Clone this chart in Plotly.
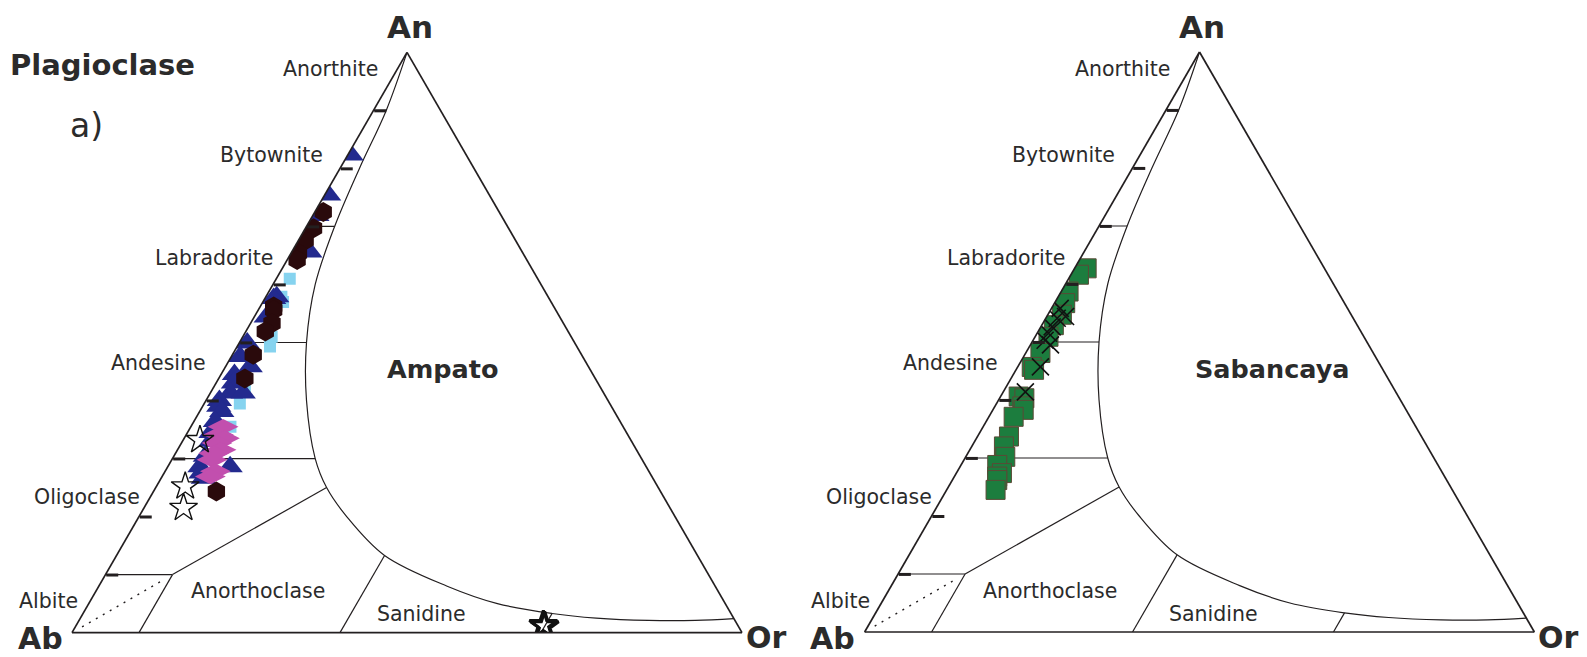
import plotly.graph_objects as go

# page has an 8 px body margin: the figure is sized to the remaining window
OFF = 8
W, H = 1587 - OFF, 657 - OFF
FONT = "DejaVu Sans, Liberation Sans, Arial, sans-serif"
INK = "#231f20"

# ── field boundaries, (An, Or) in mol % ───────────────────────────────────────
SOLVUS_AN = [100, 90, 80, 70, 60, 50, 40, 30, 25, 20, 13.3, 8, 5, 3.3, 2.5, 2.1, 2.1, 2.4]
SOLVUS_OR = [0, 1.9, 2.9, 4.2, 6.3, 10, 15, 21.3, 25.5, 31, 40, 52, 61, 70, 77, 85, 92, 97.6]

PLAG_DIV_AN = [90, 70, 50, 30]          # horizontal plagioclase divisions
PLAG_DIV_OR = [1.9, 4.2, 10, 21.3]      # where they meet the solvus

ALB_TOP_AN, ALB_TOP_OR = [10, 10], [0, 10]
ALB_ANC_AN, ALB_ANC_OR = [0, 10], [10, 10]
ANC_TOP_AN, ANC_TOP_OR = [10, 25], [10, 25.5]
ANC_SAN_AN, ANC_SAN_OR = [0, 13.3], [40, 40]
SAN_END_AN, SAN_END_OR = [0, 3.3], [70, 70]
ALB_DOT_AN, ALB_DOT_OR = [1, 9], [1, 9]

AN_TICKS = [10, 20, 30, 40, 50, 60, 70, 80, 90]

# ── Ampato analyses ───────────────────────────────────────────────────────────
AMP_SQ_AN = [61.0, 57.9, 57.0, 51.0, 49.3, 39.5, 35.5, 42.0]
AMP_SQ_OR = [2.0, 2.3, 3.0, 4.3, 4.9, 5.3, 5.9, 4.8]

AMP_TRI_AN = [82.3, 75.4, 71.9, 65.6, 57.9, 57.6, 54.4, 49.9, 47.6, 45.8, 44.5, 43.0,
              41.3, 41.3, 40.0, 39.0, 38.1, 36.4, 34.5, 33.0, 30.4, 28.6, 28.6, 27.5, 26.6]
AMP_TRI_OR = [0.5, 0.6, 0.6, 2.7, 1.6, 1.3, 1.8, 1.2, 1.3, 3.7, 2.0, 2.6,
              3.0, 4.9, 2.0, 2.4, 3.3, 3.2, 3.5, 4.2, 4.7, 4.8, 9.3, 5.5, 6.3]

AMP_DIA_AN = [35.5, 34.1, 33.5, 32.7, 31.5, 30.9, 29.8, 27.8, 26.9]
AMP_DIA_OR = [4.8, 4.8, 6.0, 5.3, 6.5, 5.7, 6.0, 7.5, 7.2]

AMP_HEX_AN = [72.5, 69.7, 67.6, 65.4, 64.2, 56.2, 55.6, 53.3, 51.9, 47.9, 43.8, 24.3]
AMP_HEX_OR = [1.25, 1.2, 1.0, 1.1, 1.5, 2.0, 2.3, 3.2, 2.9, 3.1, 3.9, 9.4]

AMP_STAR_AN = [33.2, 25.2, 21.5, 1.1, 1.3]
AMP_STAR_OR = [2.5, 4.3, 5.9, 70.0, 69.7]

# ── Sabancaya analyses ────────────────────────────────────────────────────────
SAB_SQ_AN = [62.7, 61.6, 58.7, 56.7, 54.7, 52.9, 50.9, 48.1, 45.7, 45.2, 40.6, 40.3,
             38.9, 38.3, 37.1, 33.7, 32.0, 30.2, 28.8, 27.4, 26.8, 26.2, 24.5]
SAB_SQ_OR = [1.8, 1.2, 1.1, 1.6, 2.1, 1.8, 2.0, 2.2, 2.1, 2.7, 2.7, 3.7,
             4.1, 4.6, 3.7, 4.7, 4.8, 5.9, 5.4, 6.8, 6.4, 6.7, 7.3]

SAB_X_AN = [55.8, 54.4, 54.1, 52.6, 51.5, 50.3, 49.5, 45.7, 41.4]
SAB_X_OR = [1.3, 2.8, 1.7, 1.7, 1.7, 1.8, 3.0, 3.4, 3.3]


def ab(an, orr):
    return [100 - a - o for a, o in zip(an, orr)]


def tern_line(sub, an, orr, width=1.2, dash=None, shape="linear"):
    return go.Scatterternary(
        subplot=sub, a=an, b=ab(an, orr), c=orr, mode="lines",
        line=dict(color=INK, width=width, dash=dash, shape=shape),
        hoverinfo="skip", showlegend=False,
    )


def tern_pts(sub, an, orr, symbol, color, size, line=None):
    return go.Scatterternary(
        subplot=sub, a=an, b=ab(an, orr), c=orr, mode="markers",
        marker=dict(symbol=symbol, color=color, size=size,
                    line=line or dict(width=0)),
        showlegend=False,
    )


fig = go.Figure()

for sub in ("ternary", "ternary2"):
    fig.add_trace(tern_line(sub, SOLVUS_AN, SOLVUS_OR, shape="spline"))
    for an, o in zip(PLAG_DIV_AN, PLAG_DIV_OR):
        fig.add_trace(tern_line(sub, [an, an], [0, o]))
    for an, o in ((ALB_TOP_AN, ALB_TOP_OR), (ALB_ANC_AN, ALB_ANC_OR),
                  (ANC_TOP_AN, ANC_TOP_OR), (ANC_SAN_AN, ANC_SAN_OR),
                  (SAN_END_AN, SAN_END_OR)):
        fig.add_trace(tern_line(sub, an, o))
    fig.add_trace(tern_line(sub, ALB_DOT_AN, ALB_DOT_OR, width=1.4, dash="2px,6px"))

# Ampato
fig.add_trace(tern_pts("ternary", AMP_SQ_AN, AMP_SQ_OR, "square", "#86d3ef", 12))
fig.add_trace(tern_pts("ternary", AMP_TRI_AN, AMP_TRI_OR, "triangle-up", "#232a8e", 22))
fig.add_trace(tern_pts("ternary", AMP_DIA_AN, AMP_DIA_OR, "diamond-wide", "#c24fae", 22))
fig.add_trace(tern_pts("ternary", AMP_HEX_AN, AMP_HEX_OR, "hexagon", "#2a0a0c", 20))
fig.add_trace(tern_pts("ternary", AMP_STAR_AN, AMP_STAR_OR, "star-open", "#111111", 21,
                       line=dict(width=[1.4, 1.4, 1.4, 3, 3], color="#111111")))

# Sabancaya
fig.add_trace(tern_pts("ternary2", SAB_SQ_AN, SAB_SQ_OR, "square", "#1c7d3e", 19,
                       line=dict(width=1, color="#5a4a36")))
fig.add_trace(tern_pts("ternary2", SAB_X_AN, SAB_X_OR, "x-thin-open", "#111111", 17,
                       line=dict(width=1.6, color="#111111")))


def axis(ticks=False):
    d = dict(showgrid=False, showticklabels=False, linecolor=INK, linewidth=1.7,
             title=dict(text=""), ticks="")
    if ticks:
        d.update(ticks="inside", tickmode="array", tickvals=AN_TICKS,
                 ticklen=12, tickwidth=3, tickcolor=INK)
    return d


def tern_layout(x0, x1, y_top, y_bot):
    # corners given in window pixels
    return dict(sum=100, bgcolor="white",
                domain=dict(x=[(x0 - OFF) / W, (x1 - OFF) / W],
                            y=[1 - (y_bot - OFF) / H, 1 - (y_top - OFF) / H]),
                aaxis=axis(True), baxis=axis(), caxis=axis())


def ann(text, x, y, size, bold=False, xanchor="center"):
    return dict(text=f"<b>{text}</b>" if bold else text,
                x=(x - OFF) / W, y=1 - (y - OFF) / H, xref="paper", yref="paper",
                xanchor=xanchor, yanchor="middle", showarrow=False,
                font=dict(family=FONT, size=size, color="#2b2b2b"))


annotations = [
    ann("Plagioclase", 8, 65, 29, bold=True, xanchor="left"),
    ann("a)", 86, 125, 33),
]
for dx, name in ((0, "Ampato"), (792, "Sabancaya")):
    annotations += [
        ann("An", 410 + dx, 27, 31, bold=True),
        ann("Ab", 40 + dx, 638, 30, bold=True),
        ann("Or", 766 + dx, 637, 30, bold=True),
        ann("Anorthite", 380 + dx, 69, 20.5, xanchor="right"),
        ann("Bytownite", 325 + dx, 155, 20.5, xanchor="right"),
        ann("Labradorite", 275 + dx, 258, 20.5, xanchor="right"),
        ann("Andesine", 208 + dx, 363, 20.5, xanchor="right"),
        ann("Oligoclase", 142 + dx, 497, 20.5, xanchor="right"),
        ann("Albite", 80 + dx, 601, 20.5, xanchor="right"),
        ann("Anorthoclase", 258 + dx, 591, 20.5),
        ann("Sanidine", 421 + dx, 614, 20.5),
    ]
annotations += [
    ann("Ampato", 385, 369, 25.5, bold=True, xanchor="left"),
    ann("Sabancaya", 1193, 369, 25.5, bold=True, xanchor="left"),
]

fig.update_layout(
    width=W, height=H,
    margin=dict(l=0, r=0, t=0, b=0),
    paper_bgcolor="white",
    font_family=FONT,
    showlegend=False,
    ternary=tern_layout(72, 742, 52, 633),
    ternary2=tern_layout(864, 1535, 52, 632),
    annotations=annotations,
)

fig.write_html("out.html")
